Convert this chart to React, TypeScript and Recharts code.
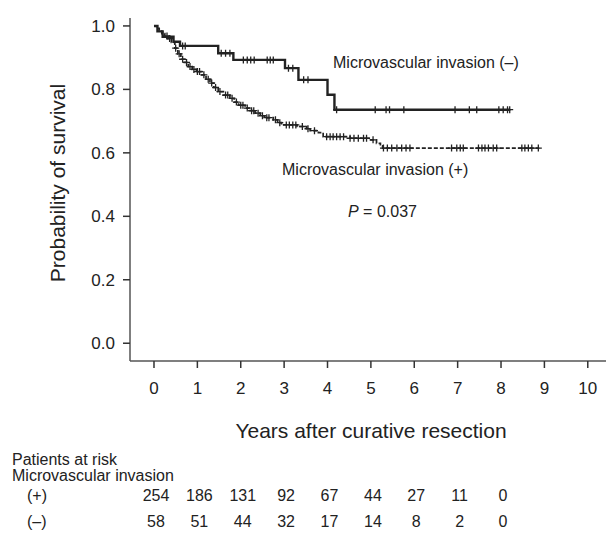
import { LineChart, Line, XAxis, YAxis } from "recharts";

// years / survival for the step curves
const minusTimes = [0, 0.08, 0.2, 0.45, 0.6, 1.48, 1.83, 3.02, 3.33, 4.0, 4.16, 8.21];
const minusSurv = [1.0, 0.983, 0.966, 0.95, 0.937, 0.914, 0.893, 0.867, 0.83, 0.783, 0.736, 0.736];
const minusCensor = [
  0.66, 0.72, 1.55, 1.65, 1.75, 2.06, 2.15, 2.23, 2.31, 2.61, 2.68, 2.75, 3.1, 3.2, 3.45,
  3.55, 4.21, 5.1, 5.35, 5.43, 5.76, 6.94, 7.27, 7.44, 7.95, 8.05, 8.15, 8.2,
];

const plusTimes = [
  0, 0.06, 0.12, 0.18, 0.25, 0.32, 0.4, 0.48, 0.55, 0.62, 0.7, 0.79, 0.88, 0.98, 1.1, 1.2,
  1.29, 1.38, 1.48, 1.6, 1.75, 1.85, 1.95, 2.1, 2.2, 2.33, 2.45, 2.55, 2.75, 2.85, 2.94,
  3.3, 3.52, 3.6, 3.79, 3.9, 4.52, 4.98, 5.13, 5.22, 5.27, 8.88,
];
const plusSurv = [
  1.0, 0.992, 0.984, 0.976, 0.968, 0.96, 0.948, 0.93, 0.912, 0.895, 0.885, 0.872, 0.863,
  0.856, 0.846, 0.832, 0.82, 0.806, 0.793, 0.782, 0.772, 0.76, 0.75, 0.741, 0.733, 0.725,
  0.717, 0.711, 0.704, 0.695, 0.688, 0.683, 0.676, 0.67, 0.664, 0.651, 0.646, 0.641, 0.63,
  0.622, 0.615, 0.615,
];
const plusCensor = [
  0.3, 0.36, 0.5, 0.58, 0.66, 0.75, 0.83, 0.92, 1.0, 1.05, 1.15, 1.25, 1.33, 1.42, 1.52,
  1.65, 1.7, 1.8, 1.9, 2.0, 2.05, 2.15, 2.25, 2.3, 2.4, 2.5, 2.6, 2.65, 2.8, 2.9, 3.05,
  3.12, 3.2, 3.27, 3.42, 3.55, 3.7, 3.98, 4.06, 4.13, 4.21, 4.29, 4.37, 4.52, 4.61, 4.71,
  4.83, 4.9, 5.05, 5.29, 5.38, 5.48, 5.6, 5.71, 5.81, 5.9, 6.86, 6.98, 7.06, 7.13, 7.48,
  7.56, 7.63, 7.71, 7.82, 7.9, 8.48, 8.55, 8.63, 8.71, 8.86,
];

const yearTicks = [0, 1, 2, 3, 4, 5, 6, 7, 8, 9, 10];
const survTicks = [0, 0.2, 0.4, 0.6, 0.8, 1.0];
const riskYears = [0, 1, 2, 3, 4, 5, 6, 7, 8];
const riskPlus = [254, 186, 131, 92, 67, 44, 27, 11, 0];
const riskMinus = [58, 51, 44, 32, 17, 14, 8, 2, 0];

const X_DOMAIN = [-0.553, 10.42];
const Y_DOMAIN = [-0.056, 1.025];
const INK = "#222";
const AXIS = "#555";
const FONT = "'Liberation Sans', Arial, Helvetica, sans-serif";

type Pt = { t: number; s: number; c: boolean };

function buildCurve(times: number[], surv: number[], censor: number[]): Pt[] {
  const pts: Pt[] = times.map((t, i) => ({ t, s: surv[i], c: false }));
  censor.forEach((t) => {
    let s = surv[0];
    times.forEach((tt, i) => {
      if (tt <= t) s = surv[i];
    });
    pts.push({ t, s, c: true });
  });
  return pts.sort((a, b) => a.t - b.t);
}

const plusData = buildCurve(plusTimes, plusSurv, plusCensor);
const minusData = buildCurve(minusTimes, minusSurv, minusCensor);
// invisible rows that tie the at-risk axes to the x scale
const riskRows = riskYears.map((t) => ({ t, s: 0 }));

function CensorMark(props: any) {
  const { cx, cy, payload, index } = props;
  if (!payload || !payload.c || cx == null || cy == null) return <g key={`n${index}`} />;
  return (
    <path
      key={`c${index}`}
      d={`M${cx - 3.5},${cy}H${cx + 3.5}M${cx},${cy - 3.5}V${cy + 3.5}`}
      stroke={INK}
      strokeWidth={1.3}
      fill="none"
    />
  );
}

function Txt({ x, y, size, children, anchor = "left", style = {} }: any) {
  // y is the visual middle of the capitals
  return (
    <div
      style={{
        position: "absolute",
        left: x,
        top: y,
        fontSize: size,
        lineHeight: 1,
        whiteSpace: "nowrap",
        color: INK,
        transform: anchor === "center" ? "translate(-50%, -50%)" : "translate(0, -50%)",
        ...style,
      }}
    >
      {children}
    </div>
  );
}

export default function App() {
  return (
    <div
      style={{
        position: "absolute",
        left: 0,
        top: 0,
        width: 609,
        height: 536,
        fontFamily: FONT,
        background: "#fff",
      }}
    >
      <LineChart width={609} height={536} margin={{ top: 18, right: 3, left: 0, bottom: 9 }}>
        <XAxis
          xAxisId="a"
          type="number"
          dataKey="t"
          domain={X_DOMAIN}
          ticks={yearTicks}
          allowDataOverflow
          height={120}
          tickSize={7}
          tickMargin={14}
          tick={{ fill: INK, fontSize: 17 }}
          axisLine={{ stroke: AXIS, strokeWidth: 1.5 }}
          tickLine={{ stroke: "#333", strokeWidth: 1.5 }}
        />
        <XAxis
          xAxisId="b"
          type="number"
          dataKey="t"
          domain={X_DOMAIN}
          ticks={riskYears}
          allowDataOverflow
          height={26}
          tickSize={0}
          tickMargin={9}
          axisLine={false}
          tickLine={false}
          tick={{ fill: INK, fontSize: 16, dx: 2 }}
          tickFormatter={(v: number) => String(riskPlus[riskYears.indexOf(v)])}
        />
        <XAxis
          xAxisId="c"
          type="number"
          dataKey="t"
          domain={X_DOMAIN}
          ticks={riskYears}
          allowDataOverflow
          height={20}
          tickSize={0}
          tickMargin={9}
          axisLine={false}
          tickLine={false}
          tick={{ fill: INK, fontSize: 16, dx: 2 }}
          tickFormatter={(v: number) => String(riskMinus[riskYears.indexOf(v)])}
        />
        <YAxis
          type="number"
          domain={Y_DOMAIN}
          ticks={survTicks}
          allowDataOverflow
          width={130}
          tickSize={7}
          tickMargin={8}
          tick={{ fill: INK, fontSize: 17 }}
          tickFormatter={(v: number) => v.toFixed(1)}
          axisLine={{ stroke: AXIS, strokeWidth: 1.5 }}
          tickLine={{ stroke: "#333", strokeWidth: 1.5 }}
        />
        <Line
          xAxisId="b"
          data={riskRows}
          dataKey="s"
          stroke="none"
          dot={false}
          activeDot={false}
          isAnimationActive={false}
        />
        <Line
          xAxisId="c"
          data={riskRows}
          dataKey="s"
          stroke="none"
          dot={false}
          activeDot={false}
          isAnimationActive={false}
        />
        <Line
          xAxisId="a"
          data={plusData}
          dataKey="s"
          type="stepAfter"
          stroke={INK}
          strokeWidth={1.7}
          strokeDasharray="4 2"
          dot={CensorMark}
          activeDot={false}
          isAnimationActive={false}
        />
        <Line
          xAxisId="a"
          data={minusData}
          dataKey="s"
          type="stepAfter"
          stroke={INK}
          strokeWidth={2.4}
          dot={CensorMark}
          activeDot={false}
          isAnimationActive={false}
        />
      </LineChart>

      <Txt x={57} y={183} size={21} anchor="center" style={{ transform: "translate(-50%, -50%) rotate(-90deg)" }}>
        Probability of survival
      </Txt>
      <Txt x={371} y={430} size={21} anchor="center">
        Years after curative resection
      </Txt>
      <Txt x={333} y={63} size={16}>
        Microvascular invasion (–)
      </Txt>
      <Txt x={282} y={170} size={16}>
        Microvascular invasion (+)
      </Txt>
      <Txt x={348} y={212} size={16}>
        <i>P</i> = 0.037
      </Txt>
      <Txt x={12} y={460} size={16}>
        Patients at risk
      </Txt>
      <Txt x={12} y={476} size={16}>
        Microvascular invasion
      </Txt>
      <Txt x={27} y={496} size={16}>
        (+)
      </Txt>
      <Txt x={27} y={522} size={16}>
        (–)
      </Txt>
    </div>
  );
}
